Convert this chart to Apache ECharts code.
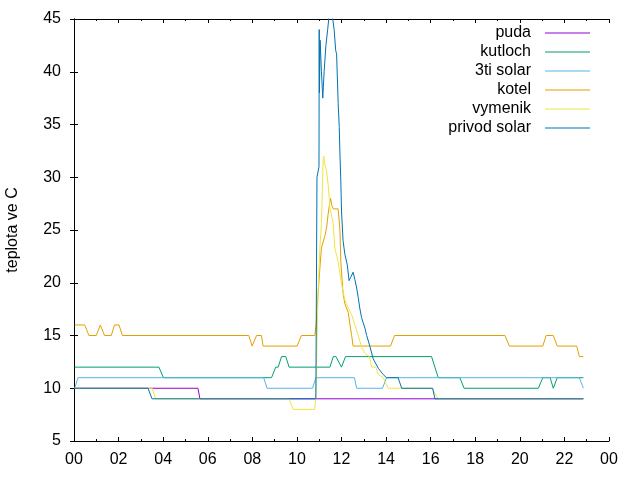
<!DOCTYPE html>
<html>
<head>
<meta charset="utf-8">
<script src="https://cdn.jsdelivr.net/npm/echarts@6/dist/echarts.min.js"></script>
<style>
  html, body { margin: 0; padding: 0; background: #fff; }
  #graf { width: 640px; height: 480px; }
</style>
</head>
<body>
<div id="graf"></div>
<script>
// [hodina, teplota]
var puda = [[0.03,10],[5.56,10],[5.65,9],[22.85,9]];
var kutloch = [[0.03,12],[3.81,12],[4.01,11],[8.86,11],[9.05,12],[9.16,12],[9.31,13],[9.5,13],[9.65,12],
  [11.48,12],[11.63,13],[11.75,13],[12.0,12],[12.07,12],[12.18,13],[16.04,13],[16.19,12],[16.34,11],
  [17.31,11],[17.5,10],[20.83,10],[21.03,11],[21.36,11],[21.5,10],[21.68,11],[22.85,11]];
var tiSolar = [[0.03,10],[0.18,11],[8.51,11],[8.66,10],[10.7,10],[10.85,11],[12.58,11],[12.68,10],
  [13.84,10],[14.02,11],[22.67,11],[22.85,10]];
var kotel = [[0.03,16],[0.48,16],[0.67,15],[1.0,15],[1.18,16],[1.37,15],[1.67,15],[1.82,16],[2.02,16],
  [2.17,15],[7.84,15],[7.99,14],[8.19,15],[8.41,15],[8.48,14],[10.01,14],[10.2,15],[10.8,15],[10.86,16],
  [10.95,19],[11.03,21.4],[11.1,23.3],[11.25,24.4],[11.33,25.2],[11.4,26.5],[11.48,27.7],[11.51,28],
  [11.57,27.3],[11.63,27],[11.85,27],[11.93,25],[11.97,22],[12.07,19],[12.15,18],[12.3,17.2],[12.38,16],
  [12.45,15.1],[12.52,14],[14.2,14],[14.38,15],[19.33,15],[19.53,14],[21.03,14],[21.18,15],[21.5,15],
  [21.68,14],[22.55,14],[22.67,13],[22.85,13]];
var vymenik = [[0.03,10],[3.51,10],[3.66,9],[9.65,9],[9.83,8],[10.8,8],[10.84,9],[10.88,12],[10.95,19.2],
  [11.03,23.3],[11.1,25.6],[11.15,29.6],[11.18,31.8],[11.21,32],[11.25,31.2],[11.33,30.6],[11.4,29.3],
  [11.45,28],[11.48,27.1],[11.63,25.6],[11.7,23.3],[11.85,22],[12.0,19.9],[12.15,18.4],[12.3,17.6],
  [12.45,17],[12.6,16],[12.75,15],[12.9,13.9],[13.05,13.3],[13.25,13],[13.35,12],[13.54,12],[13.65,11.3],
  [13.87,11],[14.1,10],[16.04,10],[16.34,9],[22.85,9]];
var privodSolar = [[0.03,10],[3.32,10],[3.5,9],[10.85,9],[10.9,30],[10.99,31],[11.0,44],[11.01,38],
  [11.04,43],[11.1,40],[11.16,37.5],[11.22,40],[11.3,42.5],[11.38,44],[11.45,45.5],[11.55,46],[11.62,44.8],
  [11.67,44],[11.74,42],[11.78,41.7],[11.85,37],[11.9,34.7],[11.93,32.2],[11.97,29.6],[12.0,26.8],
  [12.07,24],[12.15,22.7],[12.26,21.7],[12.34,20.2],[12.41,20.5],[12.52,21],[12.6,20.3],[12.68,19.5],
  [12.75,18.6],[12.82,17.6],[12.9,16.7],[13.05,15.7],[13.13,15],[13.27,14],[13.42,12.8],[13.65,11.9],
  [13.87,11.3],[14.02,11],[14.54,11],[14.7,10],[16.09,10],[16.19,9],[22.85,9]];

var nazvy = ['puda', 'kutloch', '3ti solar', 'kotel', 'vymenik', 'privod solar'];
var barvy = ['#9400d3', '#009e73', '#56b4e9', '#e69f00', '#f0e442', '#0072b2'];
var data = [puda, kutloch, tiSolar, kotel, vymenik, privodSolar];

var font = 'Liberation Sans';
var cara = { show: true, lineStyle: { color: '#000', width: 1 } };

var myChart = echarts.init(document.getElementById('graf'));

var option = {
  animation: false,
  color: barvy,
  textStyle: { fontFamily: font },
  grid: { left: 74, right: 31, top: 19, bottom: 39, containLabel: false, outerBoundsMode: 'none' },
  legend: {
    orient: 'vertical',
    align: 'right',
    right: 45,
    top: 20,
    icon: 'rect',
    itemWidth: 45,
    itemHeight: 1,
    itemGap: 3,
    selectedMode: false,
    textStyle: { fontFamily: font, fontSize: 16, color: '#000', padding: [0, 9, 0, 0] },
    data: nazvy
  },
  xAxis: [
    {
      type: 'value', min: 0, max: 24, interval: 2,
      axisLine: cara,
      axisTick: { inside: true, length: 4, lineStyle: { color: '#000' } },
      minorTick: { show: true, splitNumber: 2, length: 2, lineStyle: { color: '#000' } },
      splitLine: { show: false },
      axisLabel: {
        margin: 11, fontSize: 16, color: '#000', fontFamily: font,
        formatter: function (v) { return String(v % 24).padStart(2, '0'); }
      }
    },
    {
      type: 'value', min: 0, max: 24, interval: 2, position: 'top',
      axisLine: cara,
      axisTick: { inside: true, length: 4, lineStyle: { color: '#000' } },
      minorTick: { show: true, splitNumber: 2, length: 2, lineStyle: { color: '#000' } },
      splitLine: { show: false },
      axisLabel: { show: false }
    }
  ],
  yAxis: [
    {
      type: 'value', min: 5, max: 45, interval: 5,
      name: 'teplota ve C', nameLocation: 'middle', nameGap: 53, nameRotate: 90,
      nameTextStyle: { fontSize: 16, color: '#000', fontFamily: font },
      axisLine: cara,
      axisTick: { inside: true, length: 4, lineStyle: { color: '#000' } },
      splitLine: { show: false },
      axisLabel: { margin: 13, fontSize: 16, color: '#000', fontFamily: font }
    },
    {
      type: 'value', min: 5, max: 45, interval: 5, position: 'right',
      axisLine: cara,
      axisTick: { inside: true, length: 4, lineStyle: { color: '#000' } },
      splitLine: { show: false },
      axisLabel: { show: false }
    }
  ],
  series: nazvy.map(function (n, i) {
    return {
      name: n,
      type: 'line',
      data: data[i],
      symbol: 'none',
      clip: true,
      itemStyle: { color: barvy[i] },
      lineStyle: { width: 1, color: barvy[i] }
    };
  })
};

myChart.setOption(option);
</script>
</body>
</html>
